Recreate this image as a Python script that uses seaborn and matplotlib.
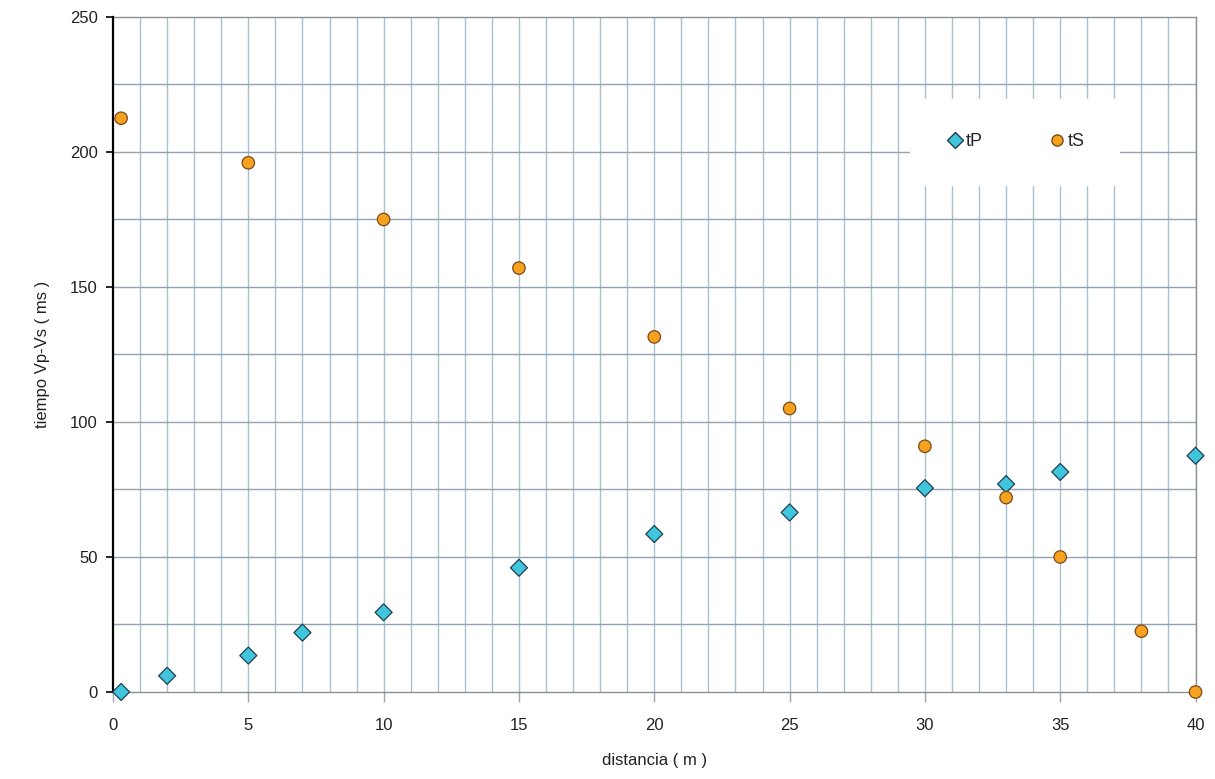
import numpy as np
import pandas as pd
import matplotlib
matplotlib.use("Agg")
import matplotlib.pyplot as plt
import seaborn as sns

# distance (m) and travel times (ms)
dist_p = [0.3, 2, 5, 7, 10, 15, 20, 25, 30, 33, 35, 40]
t_p = [0, 6, 13.5, 22, 29.5, 46, 58.5, 66.5, 75.5, 77, 81.5, 87.5]

dist_s = [0.3, 5, 10, 15, 20, 25, 30, 33, 35, 38, 40]
t_s = [212.5, 196, 175, 157, 131.5, 105, 91, 72, 50, 22.5, 0]

series_names = ["tP", "tS"]
x_ticks = [0, 5, 10, 15, 20, 25, 30, 35, 40]
y_ticks = [0, 50, 100, 150, 200, 250]

df = pd.concat([
    pd.DataFrame({"distancia": dist_p, "tiempo": t_p, "serie": "tP"}),
    pd.DataFrame({"distancia": dist_s, "tiempo": t_s, "serie": "tS"}),
], ignore_index=True)

sns.set_style("white")
plt.rcParams["font.family"] = ["Liberation Sans", "DejaVu Sans"]

fig = plt.figure(figsize=(12.15, 7.79), dpi=100)
ax = fig.add_axes([0.093, 0.1117, 0.891, 0.8665])

# grid first so the markers sit on top
for xv in np.arange(1, 41):
    ax.axvline(xv, color="#A8C0D0", lw=1.0, zorder=0)
for yv in np.arange(25, 250, 25):
    ax.axhline(yv, color="#8FA3B3", lw=1.0, zorder=0)

palette = {"tP": "#3FC6DC", "tS": "#F6A21E"}
markers = {"tP": "D", "tS": "o"}
edges = {"tP": "#1F3F50", "tS": "#7A4A1A"}
sns.scatterplot(data=df[df.serie == "tP"], x="distancia", y="tiempo",
                hue="serie", palette=palette, marker="D", s=75,
                edgecolor=edges["tP"], linewidth=0.9, ax=ax, zorder=6,
                legend=False, clip_on=False)
sns.scatterplot(data=df[df.serie == "tS"], x="distancia", y="tiempo",
                hue="serie", palette=palette, marker="o", s=80,
                edgecolor=edges["tS"], linewidth=0.9, ax=ax, zorder=6,
                legend=False, clip_on=False)

ax.set_xlim(0, 40)
ax.set_ylim(0, 250)
ax.set_xticks(x_ticks)
ax.set_yticks(y_ticks)
ax.tick_params(axis="y", direction="out", length=5, width=1.2, color="black",
               labelsize=12, pad=6, left=True, labelcolor="#222222")
ax.tick_params(axis="x", direction="out", length=7, width=1.0, color="#9AA5AE",
               labelsize=12, pad=12, bottom=True, labelcolor="#222222")

for side in ["top", "right", "bottom"]:
    ax.spines[side].set_visible(True)
    ax.spines[side].set_color("#8A8F94")
    ax.spines[side].set_linewidth(1.0)
ax.spines["left"].set_color("black")
ax.spines["left"].set_linewidth(1.6)
ax.spines["left"].set_zorder(4)

ax.set_xlabel("distancia ( m )", fontsize=12, labelpad=14, color="#222222")
ax.set_ylabel("tiempo Vp-Vs ( ms )", fontsize=12, labelpad=14, color="#222222")

handles = [
    plt.Line2D([], [], ls="", marker=markers[n], markersize=8,
               markerfacecolor=palette[n], markeredgecolor=edges[n])
    for n in series_names
]
leg = ax.legend(handles, series_names, loc="center", bbox_to_anchor=(0.833, 0.815),
                ncol=2, frameon=True, fontsize=13, handletextpad=0.0,
                columnspacing=3.5, borderpad=1.9, handlelength=1.2)
leg.get_frame().set_facecolor("white")
leg.get_frame().set_edgecolor("white")
leg.get_frame().set_alpha(1)
leg.set_zorder(5)

plt.savefig("out.png", dpi=100)
